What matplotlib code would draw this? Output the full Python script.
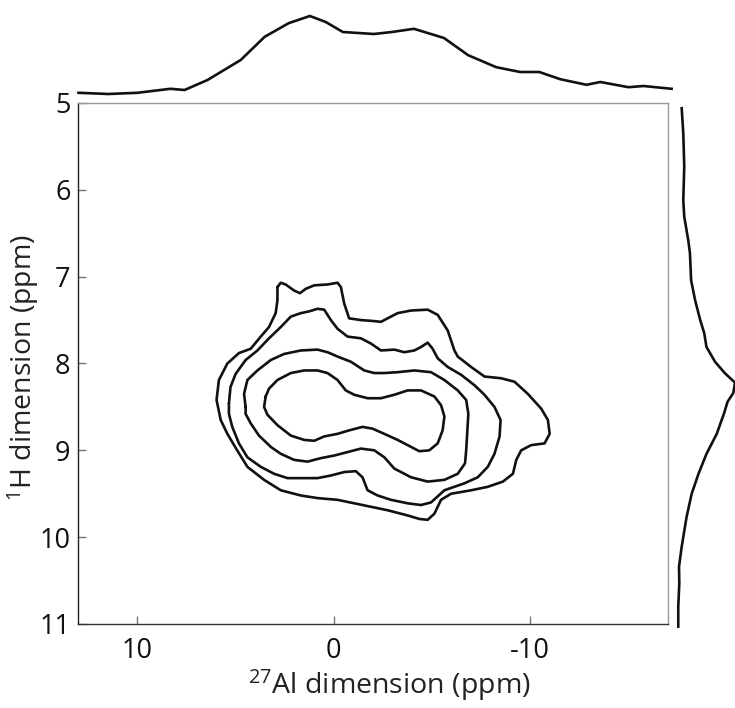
import numpy as np
import matplotlib
matplotlib.use("Agg")
import matplotlib.pyplot as plt

plt.rcParams['font.family'] = ['Open Sans', 'DejaVu Sans']
plt.rcParams['mathtext.fontset'] = 'custom'
plt.rcParams['mathtext.rm'] = 'Open Sans'
plt.rcParams['mathtext.it'] = 'Open Sans'

# ---------------- data ----------------
# 27Al projection (top)
top_ppm = [13.0, 11.48, 10.0, 8.32, 7.60, 6.43, 4.74, 3.52, 2.30, 1.22, 0.41, -0.46,
           -2.04, -2.96, -4.08, -5.61, -6.84, -8.27, -9.49, -10.46, -11.53, -12.86,
           -13.57, -15.0, -15.77, -17.2]
top_int = [0.04, 0.025, 0.04, 0.09, 0.075, 0.20, 0.45, 0.74, 0.91, 1.0, 0.925, 0.80,
           0.775, 0.80, 0.84, 0.725, 0.51, 0.36, 0.30, 0.30, 0.21, 0.14,
           0.175, 0.11, 0.125, 0.09]

# 1H projection (right)
right_ppm = [5.06, 5.35, 5.73, 6.12, 6.31, 6.58, 6.73, 7.04, 7.27, 7.50, 7.65, 7.81,
             7.98, 8.11, 8.22, 8.34, 8.44, 8.57, 8.81, 9.04, 9.27, 9.50, 9.77, 10.11,
             10.34, 10.53, 10.80, 11.03]
right_int = [0.065, 0.093, 0.11, 0.093, 0.11, 0.18, 0.21, 0.23, 0.30, 0.39, 0.46, 0.50,
             0.65, 0.82, 1.0, 0.97, 0.87, 0.81, 0.68, 0.50, 0.36, 0.24, 0.15, 0.065,
             0.018, 0.023, 0.005, 0.005]

# contour levels (outer -> inner), traced in ppm
c1_al = [2.87, 2.70, 2.45, 2.02, 1.72, 1.43, 1.00, 0.32, -0.19, -0.36, -0.53, -0.78, -1.38,
         -1.97, -2.40, -2.74, -3.25, -3.93, -4.78, -5.29, -5.80, -6.14, -6.31, -6.99, -7.67,
         -8.52, -9.20, -9.88, -10.56, -10.90, -10.99, -10.73, -10.05, -9.54, -9.29, -9.12,
         -8.61, -7.84, -6.99, -5.97, -5.46, -5.12, -4.78, -4.35, -3.76, -2.74, -1.89, -1.04,
         -0.19, 0.83, 1.68, 2.70, 3.55, 4.40, 4.92, 5.42, 5.76, 5.97, 5.85, 5.42, 4.83, 4.23,
         3.72, 3.30, 2.96, 2.87]
c1_h = [7.12, 7.07, 7.09, 7.16, 7.19, 7.14, 7.10, 7.09, 7.07, 7.12, 7.31, 7.48, 7.50,
        7.51, 7.52, 7.48, 7.42, 7.39, 7.38, 7.44, 7.62, 7.85, 7.92, 8.04, 8.15,
        8.17, 8.21, 8.35, 8.52, 8.65, 8.81, 8.92, 8.94, 9.00, 9.11, 9.27,
        9.36, 9.42, 9.46, 9.50, 9.57, 9.73, 9.80, 9.79, 9.75, 9.69, 9.65, 9.61,
        9.57, 9.55, 9.52, 9.46, 9.34, 9.19, 9.00, 8.81, 8.65, 8.42, 8.19, 8.00, 7.88, 7.83,
        7.69, 7.58, 7.42, 7.27]

c2_al = [5.34, 5.26, 5.00, 4.49, 3.89, 3.30, 2.70, 2.19, 1.68, 1.26, 0.83, 0.49, 0.15,
         -0.19, -0.70, -1.38, -1.89, -2.40, -3.08, -3.59, -4.10, -4.44, -4.78, -5.03, -5.29,
         -5.80, -6.48, -7.16, -7.67, -8.18, -8.49, -8.44, -8.18, -7.84, -7.33, -6.65, -5.63,
         -4.95, -4.44, -3.76, -2.91, -2.23, -1.72, -1.46, -1.12, -0.53, 0.15, 0.83, 1.51,
         2.36, 3.04, 3.72, 4.40, 4.83, 5.17, 5.34]
c2_h = [8.46, 8.27, 8.12, 7.96, 7.85, 7.71, 7.58, 7.46, 7.42, 7.40, 7.37, 7.38, 7.50,
        7.60, 7.69, 7.71, 7.77, 7.85, 7.84, 7.87, 7.85, 7.81, 7.76, 7.83, 7.94,
        8.04, 8.13, 8.25, 8.36, 8.50, 8.65, 8.84, 9.04, 9.19, 9.31, 9.38, 9.46,
        9.60, 9.63, 9.61, 9.57, 9.52, 9.46, 9.31, 9.24, 9.25, 9.29, 9.32, 9.32,
        9.32, 9.27, 9.19, 9.08, 8.92, 8.73, 8.58]

c3_al = [4.49, 4.57, 4.40, 3.89, 3.21, 2.53, 1.68, 0.83, 0.32, -0.19, -0.87, -1.55, -2.06,
         -2.57, -3.25, -4.10, -4.95, -5.63, -6.31, -6.74, -6.85, -6.79, -6.74, -6.68, -6.31,
         -5.63, -4.78, -3.93, -3.08, -2.57, -2.06, -1.38, -0.70, -0.02, 0.66, 1.34, 2.02,
         2.70, 3.21, 3.81, 4.23, 4.49]
c3_h = [8.50, 8.35, 8.19, 8.08, 7.96, 7.89, 7.85, 7.84, 7.87, 7.92, 7.98, 8.08, 8.11,
        8.11, 8.10, 8.08, 8.10, 8.19, 8.31, 8.42, 8.58, 8.81, 9.00, 9.15, 9.27,
        9.34, 9.36, 9.31, 9.21, 9.08, 9.00, 8.98, 9.02, 9.06, 9.09, 9.13, 9.11,
        9.04, 8.96, 8.83, 8.69, 8.58]

c4_al = [3.47, 3.30, 2.87, 2.19, 1.51, 0.83, 0.32, -0.19, -0.61, -1.04, -1.72, -2.40, -3.08,
         -3.76, -4.44, -5.12, -5.46, -5.63, -5.54, -5.29, -4.86, -4.35, -3.93, -3.25, -2.57,
         -1.97, -1.46, -0.78, -0.19, 0.49, 1.00, 1.51, 2.19, 2.87, 3.38, 3.55]
c4_h = [8.38, 8.29, 8.19, 8.11, 8.08, 8.08, 8.11, 8.19, 8.31, 8.36, 8.40, 8.40, 8.36,
        8.31, 8.31, 8.38, 8.48, 8.61, 8.77, 8.92, 9.00, 9.01, 8.96, 8.88, 8.81,
        8.75, 8.73, 8.77, 8.81, 8.84, 8.89, 8.88, 8.83, 8.71, 8.59, 8.50]

x_ticks = [10, 0, -10]
y_ticks = [5, 6, 7, 8, 9, 10, 11]

# ---------------- figure ----------------
W, H = 735, 708
fig = plt.figure(figsize=(W / 100, H / 100), dpi=100)

L, R, T, B = 77.5, 667.7, 103, 624
ax = fig.add_axes([L / W, 1 - B / H, (R - L) / W, (B - T) / H])

line_kw = dict(color='#111111', lw=1.9, solid_joinstyle='round', solid_capstyle='round')
for xs, ys in [(c1_al, c1_h), (c2_al, c2_h), (c3_al, c3_h), (c4_al, c4_h)]:
    xs = list(xs) + [xs[0]]
    ys = list(ys) + [ys[0]]
    ax.plot(xs, ys, **line_kw)

ax.set_xlim(13.05, -17.0)
ax.set_ylim(11, 5)
ax.set_xticks(x_ticks)
ax.set_yticks(y_ticks)
ax.set_xticklabels([str(t) for t in x_ticks])
ax.set_yticklabels([str(t) for t in y_ticks])
ax.tick_params(direction='in', length=6, width=1, color='#777777', labelsize=19.5,
               labelcolor='#111111')
ax.tick_params(axis='x', pad=9)
ax.tick_params(axis='y', pad=5)
ax.spines['left'].set_color('#222222')
ax.spines['bottom'].set_color('#333333')
ax.spines['top'].set_color('#999999')
ax.spines['right'].set_color('#999999')
for s in ax.spines.values():
    s.set_linewidth(1.0)

ax.set_xlabel(r'$^{27}$Al dimension (ppm)', fontsize=20.5, color='#222222')
ax.xaxis.set_label_coords(0.529, -0.083)
ax.set_ylabel(r'$^{1}$H dimension (ppm)', fontsize=20.5, color='#222222')
ax.yaxis.set_label_coords(-0.062, 0.493)

# top projection
axt = fig.add_axes([L / W, 1 - T / H, (R - L) / W, T / H])
axt.plot(top_ppm, top_int, color='#111111', lw=1.9, clip_on=False)
axt.set_xlim(13.05, -17.0)
axt.set_ylim(-0.0875, 1.2)
axt.axis('off')

# right projection
rx0 = 672.0
axr = fig.add_axes([rx0 / W, 1 - B / H, (W - rx0) / W, (B - T) / H])
axr.plot(right_int, right_ppm, color='#111111', lw=1.9, clip_on=False)
axr.set_xlim(-0.105, 1.0)
axr.set_ylim(11, 5)
axr.axis('off')

fig.savefig('out.png', dpi=100)
